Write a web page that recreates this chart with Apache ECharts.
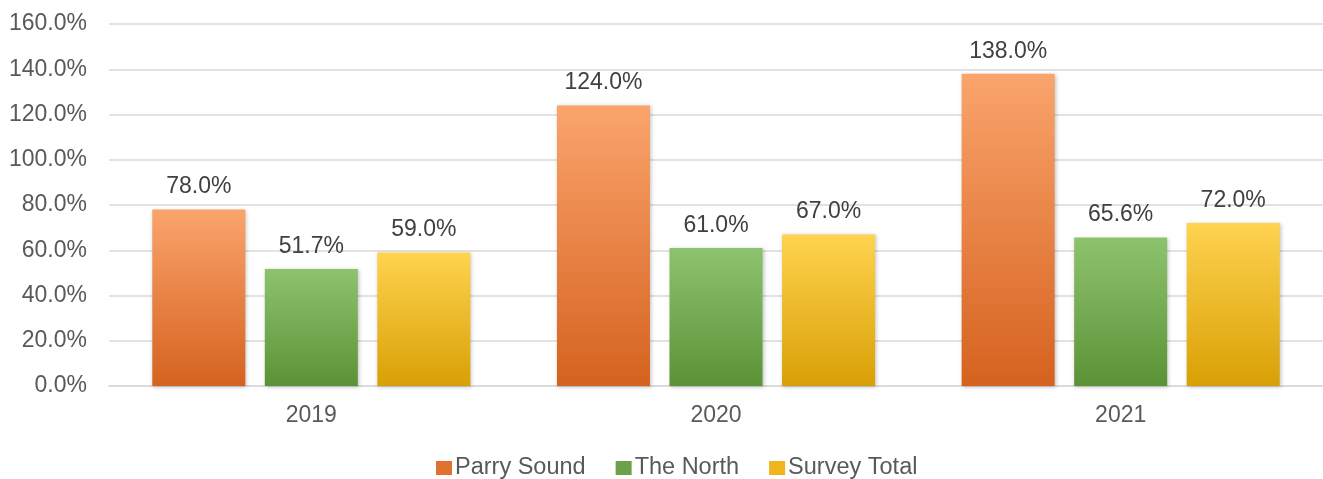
<!DOCTYPE html>
<html>
<head>
<meta charset="utf-8">
<style>
  html, body { margin: 0; padding: 0; background: #ffffff; }
  #chart { width: 1323px; height: 479px; }
</style>
<script src="https://cdn.jsdelivr.net/npm/echarts@6/dist/echarts.min.js"></script>
</head>
<body>
<div id="chart"></div>
<script>
// Years on the category axis
const years = ['2019', '2020', '2021'];

// Percentages per region
const parrySound = [78.0, 124.0, 138.0];
const theNorth = [51.7, 61.0, 65.6];
const surveyTotal = [59.0, 67.0, 72.0];

const seriesNames = ['Parry Sound', 'The North', 'Survey Total'];

const FONT = '"Liberation Sans", Arial, sans-serif';

function vGrad(top, bottom) {
  return new echarts.graphic.LinearGradient(0, 0, 0, 1, [
    { offset: 0, color: top },
    { offset: 1, color: bottom }
  ]);
}

const palette = [
  { top: '#FAA46C', bottom: '#D5621F', legend: '#E0712E' },
  { top: '#8EC36E', bottom: '#5B9236', legend: '#6DA047' },
  { top: '#FFD34F', bottom: '#D8A005', legend: '#F0B41C' }
];

function makeSeries(name, data, idx) {
  return {
    name: name,
    type: 'bar',
    data: data,
    barWidth: 93,
    barGap: '21%',
    itemStyle: {
      color: vGrad(palette[idx].top, palette[idx].bottom),
      shadowColor: 'rgba(0,0,0,0.25)',
      shadowBlur: 4,
      shadowOffsetX: 1,
      shadowOffsetY: 1
    },
    label: {
      show: true,
      position: 'top',
      distance: 11,
      formatter: p => p.value.toFixed(1) + '%',
      fontFamily: FONT,
      fontSize: 23,
      color: '#404040'
    }
  };
}

const chart = echarts.init(document.getElementById('chart'), null, { renderer: 'canvas' });

chart.setOption({
  animation: false,
  backgroundColor: '#ffffff',
  grid: { left: 109, right: 0, top: 24, bottom: 93, containLabel: false },
  legend: {
    top: 451,
    left: 431,
    itemWidth: 16,
    itemHeight: 14,
    itemGap: 30,
    textStyle: { fontFamily: FONT, fontSize: 23.5, color: '#595959', padding: [0, 0, 0, -2] },
    data: seriesNames.map((n, i) => ({
      name: n,
      icon: 'rect',
      itemStyle: { color: palette[i].legend, shadowBlur: 0 }
    }))
  },
  xAxis: {
    type: 'category',
    data: years,
    axisLine: { show: true, lineStyle: { color: '#D9D9D9', width: 1.5 } },
    axisTick: { show: false },
    axisLabel: { fontFamily: FONT, fontSize: 23, color: '#595959', margin: 18 }
  },
  yAxis: {
    type: 'value',
    min: 0,
    max: 160,
    interval: 20,
    axisLine: { show: false },
    axisTick: { show: false },
    axisLabel: {
      fontFamily: FONT,
      fontSize: 23,
      color: '#595959',
      margin: 22,
      formatter: v => v.toFixed(1) + '%'
    },
    splitLine: { lineStyle: { color: '#D9D9D9', width: 1.5 } }
  },
  series: [
    makeSeries(seriesNames[0], parrySound, 0),
    makeSeries(seriesNames[1], theNorth, 1),
    makeSeries(seriesNames[2], surveyTotal, 2)
  ]
});
</script>
</body>
</html>
